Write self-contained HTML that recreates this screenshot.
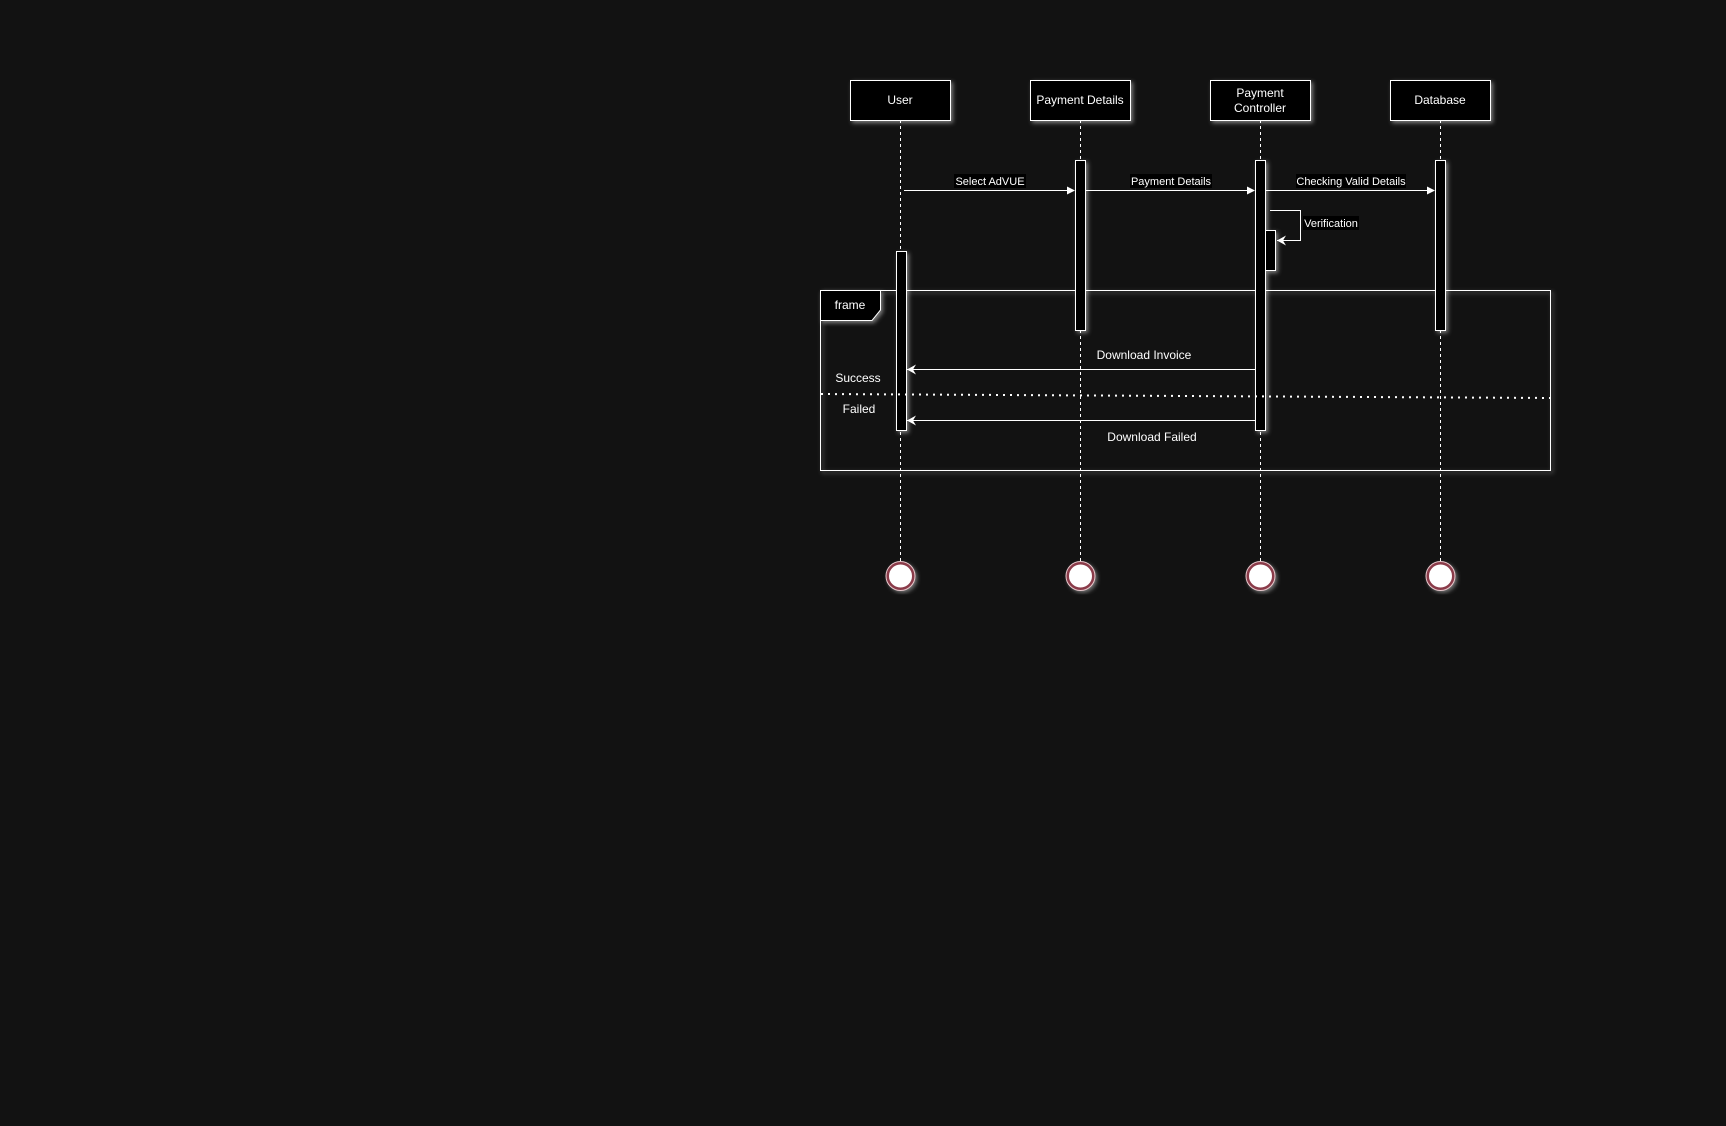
<!DOCTYPE html>
<html><head><meta charset="utf-8"><style>
html,body{margin:0;padding:0;background:#121212;}
svg{display:block}
text{font-family:"Liberation Sans",sans-serif;fill:#fff;}
</style></head><body>
<svg width="1726" height="1126" viewBox="0 0 1726 1126" xmlns="http://www.w3.org/2000/svg">
<defs>
<filter id="g" x="-20%" y="-20%" width="140%" height="140%">
<feDropShadow dx="2" dy="2" stdDeviation="2" flood-color="#fff" flood-opacity="0.45"/>
</filter>
<marker id="a" markerWidth="8" markerHeight="8" refX="7" refY="4" orient="auto" markerUnits="userSpaceOnUse"><path d="M0,0 L8,4 L0,8 z" fill="#fff"/></marker>
<marker id="o" markerWidth="10" markerHeight="10" refX="9" refY="5" orient="auto" markerUnits="userSpaceOnUse"><path d="M0,0 L9,5 L0,10 L3,5 z" fill="#fff"/></marker>
</defs>
<rect width="1726" height="1126" fill="#121212"/>
<g stroke="#fff" stroke-width="1" stroke-dasharray="3,3" fill="none">
<line x1="900.5" y1="120" x2="900.5" y2="563"/>
<line x1="1080.5" y1="120" x2="1080.5" y2="563"/>
<line x1="1260.5" y1="120" x2="1260.5" y2="563"/>
<line x1="1440.5" y1="120" x2="1440.5" y2="563"/>
</g>
<g fill="#000" stroke="#fff" stroke-width="1" filter="url(#g)">
<rect x="850.5" y="80.5" width="100" height="40"/>
<rect x="1030.5" y="80.5" width="100" height="40"/>
<rect x="1210.5" y="80.5" width="100" height="40"/>
<rect x="1390.5" y="80.5" width="100" height="40"/>
</g>
<g font-size="12" text-anchor="middle">
<text x="900" y="104">User</text>
<text x="1080" y="104">Payment Details</text>
<text x="1260" y="97">Payment</text>
<text x="1260" y="112">Controller</text>
<text x="1440" y="104">Database</text>
</g>
<g fill="none" stroke="#fff" stroke-width="1" filter="url(#g)">
<rect x="820.5" y="290.5" width="730" height="180"/>
</g>
<path d="M820.5,290.5 H880.5 V310 L872,320.5 H820.5 z" fill="#000" stroke="#fff" filter="url(#g)"/>
<text x="850" y="309" font-size="12" text-anchor="middle">frame</text>
<g fill="#000" stroke="#fff" stroke-width="1" filter="url(#g)">
<rect x="1075.5" y="160.5" width="10" height="170"/>
<rect x="1255.5" y="160.5" width="10" height="270"/>
<rect x="1435.5" y="160.5" width="10" height="170"/>
<rect x="896.5" y="251.5" width="10" height="179"/>
<rect x="1265.5" y="230.5" width="10" height="40"/>
</g>
<line x1="821" y1="394" x2="1550" y2="398" stroke="#fff" stroke-width="2" stroke-dasharray="2,5"/>
<g stroke="#fff" stroke-width="1" fill="none">
<line x1="904" y1="190.5" x2="1074" y2="190.5" marker-end="url(#a)"/>
<line x1="1086" y1="190.5" x2="1254" y2="190.5" marker-end="url(#a)"/>
<line x1="1266" y1="190.5" x2="1434" y2="190.5" marker-end="url(#a)"/>
<polyline points="1270,210.5 1300.5,210.5 1300.5,240.5 1277,240.5" marker-end="url(#o)"/>
<line x1="1255" y1="369.5" x2="907" y2="369.5" marker-end="url(#o)"/>
<line x1="1255" y1="420.5" x2="907" y2="420.5" marker-end="url(#o)"/>
</g>
<g font-size="11" text-anchor="middle">
<rect x="954" y="174" width="72" height="14" fill="#000"/>
<text x="990" y="185">Select AdVUE</text>
<rect x="1130" y="174" width="82" height="14" fill="#000"/>
<text x="1171" y="185">Payment Details</text>
<rect x="1296" y="174" width="110" height="14" fill="#000"/>
<text x="1351" y="185">Checking Valid Details</text>
<rect x="1303" y="216" width="56" height="14" fill="#000"/>
<text x="1331" y="227">Verification</text>
</g>
<g font-size="12" text-anchor="middle">
<text x="1144" y="359">Download Invoice</text>
<text x="858" y="382">Success</text>
<text x="859" y="413">Failed</text>
<text x="1152" y="441">Download Failed</text>
</g>
<g fill="#fff" stroke="#8a3a4a" stroke-width="3" filter="url(#g)">
<circle cx="900.5" cy="576" r="13"/>
<circle cx="1080.5" cy="576" r="13"/>
<circle cx="1260.5" cy="576" r="13"/>
<circle cx="1440.5" cy="576" r="13"/>
</g>
<g fill="none" stroke="#e8c8cc" stroke-width="1">
<circle cx="900.5" cy="576" r="14.5"/>
<circle cx="1080.5" cy="576" r="14.5"/>
<circle cx="1260.5" cy="576" r="14.5"/>
<circle cx="1440.5" cy="576" r="14.5"/>
</g>
</svg>
</body></html>
